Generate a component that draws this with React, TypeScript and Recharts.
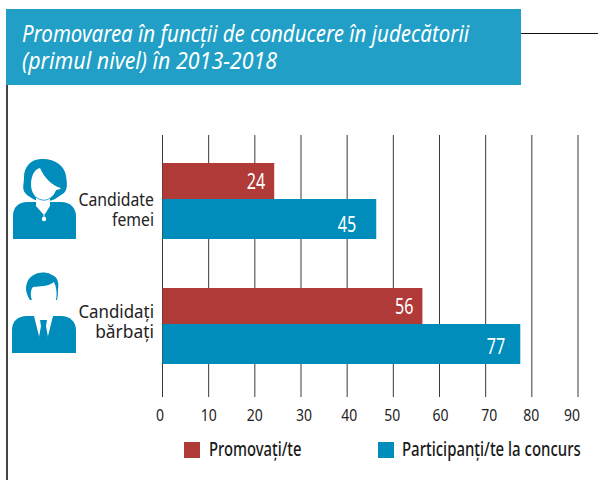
import React from 'react';
import { BarChart, Bar, XAxis, YAxis, CartesianGrid, Legend, LabelList } from 'recharts';

const categories = ['Candidate femei', 'Candidați bărbați'];
// bar lengths as drawn, they run a little past the printed numbers
const promovatiLengths = [24.2, 56.3];
const participantiLengths = [46.3, 77.5];
const promovatiLabels = [24, 56];
const participantiLabels = [45, 77];
const ticks = [0, 10, 20, 30, 40, 50, 60, 70, 80, 90];

const data = categories.map((name, i) => ({
  name,
  promovati: promovatiLengths[i],
  participanti: participantiLengths[i],
}));

const RED = '#b03a37';
const BLUE = '#008dbb';
const BANNER = '#219fc6';
const INK = '#222222';
const FONT = '"Noto Sans", sans-serif';

// the tick numbers sit slightly off their gridlines in the original
const tickNudge: Record<number, number> = { 0: -2.5, 10: 0, 20: 0, 30: 3, 40: 2, 50: -1, 60: 1, 70: 3.5, 80: -0.5, 90: -6 };

const XTick = ({ x, payload }: any) => {
  const label = String(payload.value);
  return (
    <text
      x={x + tickNudge[payload.value]}
      y={421}
      textAnchor="middle"
      fontFamily={FONT}
      fontSize={17}
      fill={INK}
      textLength={label.length * 8}
      lengthAdjust="spacingAndGlyphs"
    >
      {label}
    </text>
  );
};

const WomanIcon = () => (
  <g>
    <path d="M43 159C31 158 24 167 24 177C24 185 21 190 27 195L33 199C38 202 50 202 55 199L64 193C68 189 67 182 66 176C65 166 55 159 43 159Z" fill={BLUE} />
    <path d="M13 239L13 216C13 207 19 202 27 202L61 202C70 202 76 208 76 216L76 239Z" fill={BLUE} />
    <path d="M40 168C34 169 31 177 31 184C31 191 34 195 36 197L36 206L43 214L45 214L50 206L50 198C53 196 55 193 56 190C58 190 60 189 61 188C52 186 44 177 40 168Z" fill="#fff" />
    <path d="M36 197C40 201 47 201 50 198" fill="none" stroke={BLUE} strokeWidth={0.8} />
    <path d="M44 213L44 217" stroke="#fff" strokeWidth={1} />
    <circle cx={44} cy={219} r={2.2} fill="#fff" />
  </g>
);

const ManIcon = () => (
  <g>
    <path d="M30 300C26 294 25 288 27 283C29 276 38 271 47 273C50 273 51 275 54 276C58 278 59 284 58 289C58 293 58 296 57 300Z" fill={BLUE} />
    <path d="M12 353L12 330C12 321 18 316 27 316L61 316C70 316 76 322 76 330L76 353Z" fill={BLUE} />
    <path d="M34 316L53 316L47.5 338L46 330L41 330L39.5 338Z" fill="#fff" />
    <path d="M37 307L37 316L51 316L51 307Z" fill="#fff" />
    <path d="M33 287C40 286 48 287 54 282C56 286 57 291 56.5 297C55 306 50 314 44 314C38 314 33 306 31 297C30.5 293 31 289 33 287Z" fill="#fff" />
    <path d="M40 320L47 320L46 326L48 337L43.5 342L39 337L41 326Z" fill={BLUE} />
  </g>
);

const labelLines = [
  { lines: ['Candidate', 'femei'], y: [206, 226], Icon: WomanIcon },
  { lines: ['Candidați', 'bărbați'], y: [318, 338], Icon: ManIcon },
];

const YTick = ({ index }: any) => {
  const item = labelLines[index];
  if (!item) return null;
  const { Icon } = item;
  return (
    <g>
      <Icon />
      {item.lines.map((line, i) => (
        <text key={line} x={154} y={item.y[i]} textAnchor="end" fontFamily={FONT} fontSize={18} fill={INK} textLength={line.length * 8.4} lengthAdjust="spacingAndGlyphs">
          {line}
        </text>
      ))}
    </g>
  );
};

const makeValueLabel = (labels: number[], ends: number[], shifts: number[]) => (props: any) => {
  const { x, y, width, height, index } = props;
  return (
    <text
      x={x + width - ends[index]}
      y={y + height / 2 + 7.5 + shifts[index]}
      textAnchor="end"
      fontFamily={FONT}
      fontSize={21}
      fill="#ffffff"
      textLength={18.5}
      lengthAdjust="spacingAndGlyphs"
    >
      {labels[index]}
    </text>
  );
};

const legendPos: Record<string, { box: number; text: number; squeeze: number }> = {
  'Promovați/te': { box: 184, text: 209, squeeze: 0.74 },
  'Participanți/te la concurs': { box: 378, text: 402, squeeze: 0.748 },
};

const LegendContent = ({ payload }: any) => (
  <svg width={598} height={50} style={{ display: 'block' }}>
    {(payload || []).map((p: any) => {
      const pos = legendPos[p.value];
      return (
        <g key={p.value}>
          <rect x={pos.box} y={12} width={16} height={16} fill={p.color} />
          <text transform={`translate(${pos.text} 26) scale(${pos.squeeze} 1)`} fontFamily={FONT} fontSize={20} fontWeight={500} fill="#1a1a1a">
            {p.value}
          </text>
        </g>
      );
    })}
  </svg>
);

export default function App() {
  return (
    <div style={{ position: 'absolute', left: 0, top: 0, width: 598, height: 480, background: '#fff', overflow: 'hidden' }}>
      <BarChart
        width={598}
        height={480}
        data={data}
        layout="vertical"
        barGap={0}
        barCategoryGap={0}
        margin={{ top: 135, right: 20, bottom: 0, left: 0 }}
      >
        <CartesianGrid horizontal={false} stroke="#3a3a3a" strokeWidth={1} />
        <XAxis
          type="number"
          domain={[0, 90]}
          ticks={ticks}
          axisLine={false}
          tickLine={false}
          height={33}
          tick={<XTick />}
          interval={0}
        />
        <YAxis
          type="category"
          dataKey="name"
          width={162.5}
          axisLine={false}
          tickLine={false}
          tick={<YTick />}
          interval={0}
          padding={{ top: 3, bottom: 9 }}
        />
        <Legend
          content={<LegendContent />}
          wrapperStyle={{ position: 'absolute', left: 0, top: 430, width: 598, height: 50 }}
        />
        <Bar dataKey="promovati" name="Promovați/te" fill={RED} barSize={36} isAnimationActive={false}>
          <LabelList content={makeValueLabel(promovatiLabels, [9, 9], [0, 0])} />
        </Bar>
        <Bar dataKey="participanti" name="Participanți/te la concurs" fill={BLUE} barSize={40} isAnimationActive={false}>
          <LabelList content={makeValueLabel(participantiLabels, [20, 15], [5, 2])} />
        </Bar>
        <line x1={7} y1={85} x2={7} y2={480} stroke="#444" strokeWidth={2} />
        <line x1={521} y1={33.5} x2={598} y2={33.5} stroke="#111" strokeWidth={1} />
        <rect x={6} y={9} width={515} height={76} fill={BANNER} />
        <text x={22} y={42} fontFamily={FONT} fontStyle="italic" fontSize={23} fill="#fff" textLength={447} lengthAdjust="spacingAndGlyphs">
          Promovarea în funcții de conducere în judecătorii
        </text>
        <text x={22} y={69} fontFamily={FONT} fontStyle="italic" fontSize={23} fill="#fff" textLength={255} lengthAdjust="spacingAndGlyphs">
          (primul nivel) în 2013-2018
        </text>
      </BarChart>
    </div>
  );
}
